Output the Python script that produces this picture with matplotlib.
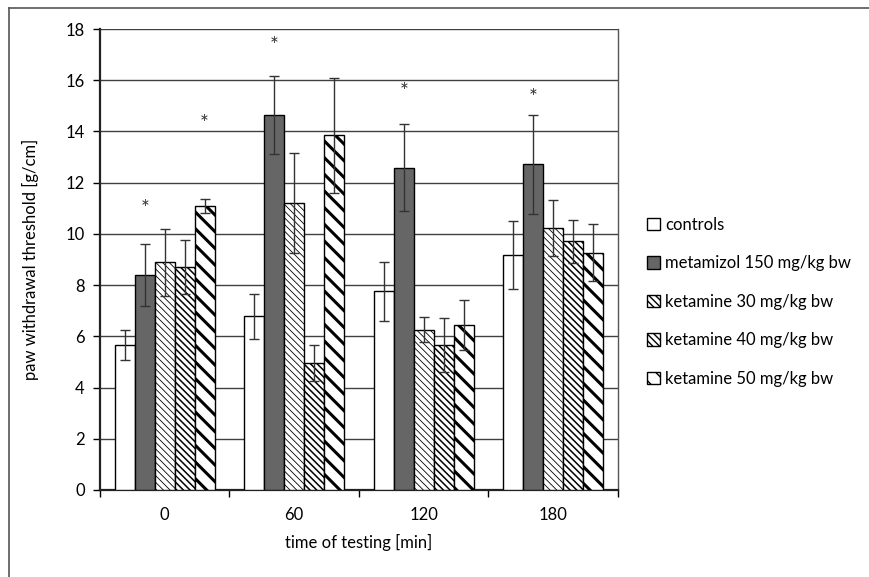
import numpy as np
import matplotlib
matplotlib.use('Agg')
import matplotlib.pyplot as plt
from matplotlib.lines import Line2D

plt.rcParams['font.family'] = ['Lato', 'DejaVu Sans']

times = ['0', '60', '120', '180']
groups = ['controls', 'metamizol 150 mg/kg bw', 'ketamine 30 mg/kg bw',
          'ketamine 40 mg/kg bw', 'ketamine 50 mg/kg bw']

controls = [5.65, 6.78, 7.76, 9.17]
controls_err = [0.58, 0.89, 1.16, 1.34]
metamizol = [8.39, 14.63, 12.58, 12.72]
metamizol_err = [1.22, 1.52, 1.70, 1.93]
ket30 = [8.89, 11.22, 6.26, 10.22]
ket30_err = [1.31, 1.95, 0.48, 1.10]
ket40 = [8.71, 4.96, 5.65, 9.72]
ket40_err = [1.07, 0.69, 1.05, 0.84]
ket50 = [11.08, 13.85, 6.44, 9.27]
ket50_err = [0.27, 2.24, 0.98, 1.12]

# significance stars: (time index, group index, height)
stars = [(0, 1, 10.98), (0, 4, 14.3), (1, 1, 17.35), (2, 1, 15.55), (3, 1, 15.3)]

values = [controls, metamizol, ket30, ket40, ket50]
errors = [controls_err, metamizol_err, ket30_err, ket40_err, ket50_err]
faces = ['white', '#666666', 'white', 'white', 'white']
hatches = [None, None, '\\\\\\\\\\', '\\\\\\\\\\', '\\\\']
hatch_cols = ['black', 'black', '#555555', '#222222', 'black']
hatch_lw = [1, 1, 0.6, 1.1, 2.2]

fig = plt.figure(figsize=(8.7, 5.77), dpi=100)
ax = fig.add_axes([0.1149, 0.1508, 0.5954, 0.7989])

x = np.arange(len(times))
w = 0.154
handles = []
for i in range(5):
    pos = x + (i - 2) * w
    with plt.rc_context({'hatch.linewidth': hatch_lw[i], 'hatch.color': hatch_cols[i]}):
        bars = ax.bar(pos, values[i], w, color=faces[i], edgecolor='black',
                      linewidth=1, hatch=hatches[i], zorder=3)
        ax.errorbar(pos, values[i], yerr=errors[i], fmt='none', ecolor='#333333',
                    elinewidth=1, capsize=3.5, capthick=1, zorder=4)
        handles.append(bars[0])

for t, g, h in stars:
    ax.text(x[t] + (g - 2) * w, h, '*', ha='center', va='center', fontsize=15,
            color='#333333', zorder=5)

ax.set_ylim(0, 18)
ax.set_yticks(np.arange(0, 19, 2))
ax.set_xlim(-0.5, 3.5)
ax.set_xticks(x)
ax.set_xticklabels(times)
ax.set_xticks(np.arange(-0.5, 4, 1), minor=True)
ax.tick_params(axis='x', which='major', length=0, pad=12, labelsize=12)
ax.tick_params(axis='x', which='minor', length=5, direction='out', width=1)
ax.tick_params(axis='y', length=5, direction='out', width=1, labelsize=12, pad=6)
ax.grid(axis='y', color='#404040', linewidth=1, zorder=0)
ax.set_axisbelow(True)

for s in ['left', 'bottom']:
    ax.spines[s].set_linewidth(1.6)
    ax.spines[s].set_color('#222222')
ax.spines['top'].set_visible(False)
ax.spines['right'].set_color('#555555')
ax.spines['right'].set_linewidth(1)

ax.set_xlabel('time of testing [min]', fontsize=12, labelpad=8)
ax.set_ylabel('paw withdrawal threshold [g/cm]', fontsize=12, labelpad=19)

fig.legend(handles, groups, loc='center left', bbox_to_anchor=(0.726, 0.477),
           frameon=False, fontsize=12, handlelength=0.8, handleheight=0.8,
           handletextpad=0.3, labelspacing=1.35)

# outer frame lines (left and top)
fig.add_artist(Line2D([0.0103, 0.0103], [0, 0.986], color='#555555', lw=1.2))
fig.add_artist(Line2D([0.0103, 1.0], [0.986, 0.986], color='#555555', lw=1.2))

plt.savefig('out.png', dpi=100)
